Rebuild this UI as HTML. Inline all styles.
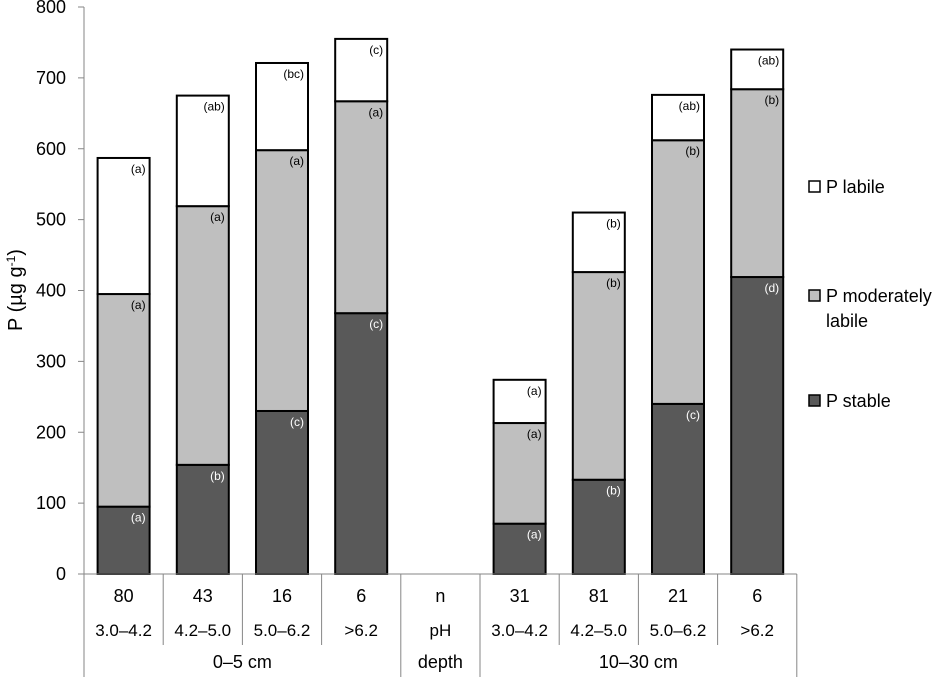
<!DOCTYPE html>
<html><head><meta charset="utf-8">
<style>
body{margin:0;background:#fff;}
svg text{font-family:"Liberation Sans","DejaVu Sans",sans-serif;}
</style></head>
<body>
<svg id="chart" width="941" height="677" viewBox="0 0 941 677" xmlns="http://www.w3.org/2000/svg"></svg>
<script>
const nValues=["80","43","16","6","n","31","81","21","6"];
const phLabels=["3.0–4.2","4.2–5.0","5.0–6.2",">6.2","pH","3.0–4.2","4.2–5.0","5.0–6.2",">6.2"];
const stableVals=[95,154,230,368,null,71,133,240,419];
const moderateVals=[300,365,368,299,null,142,293,372,265];
const labileVals=[192,156,123,88,null,61,84,64,56];
const stableLetters=["(a)","(b)","(c)","(c)","","(a)","(b)","(c)","(d)"];
const moderateLetters=["(a)","(a)","(a)","(a)","","(a)","(b)","(b)","(b)"];
const labileLetters=["(a)","(ab)","(bc)","(c)","","(a)","(b)","(ab)","(ab)"];
const yTicks=[0,100,200,300,400,500,600,700,800];

const svg=document.getElementById('chart');
const NS='http://www.w3.org/2000/svg';
const x0=84, slotW=79.2, y0=574, yTop=7, yMax=800, barW=52;
function yS(v){return y0-(v/yMax)*(y0-yTop);}
function xC(i){return x0+slotW*(i+0.5);}
function mk(tag,attrs,txt){const e=document.createElementNS(NS,tag);for(const k in attrs)e.setAttribute(k,attrs[k]);if(txt!==undefined)e.textContent=txt;svg.appendChild(e);return e;}

let ax=mk('line',{x1:x0,y1:yTop,x2:x0,y2:y0,stroke:'#868686','stroke-width':1});


yTicks.forEach(t=>{
  const l=mk('line',{x1:x0-6,y1:yS(t),x2:x0,y2:yS(t),stroke:'#868686'});
  
  
  const tx=mk('text',{x:x0-18,y:yS(t)+6,'text-anchor':'end','font-size':18,fill:'#000'},String(t));
  
  
});
const yl=mk('text',{transform:'translate(22,290) rotate(-90)','text-anchor':'middle','font-size':20,fill:'#000'});
yl.innerHTML='P (µg g<tspan dy="-7" font-size="12">-1</tspan><tspan dy="7">)</tspan>';



const cols=['#595959','#bfbfbf','#ffffff'];
const names=['stable','moderate','labile'];
for(let i=0;i<nValues.length;i++){
  if(stableVals[i]===null)continue;
  const segs=[stableVals[i],moderateVals[i],labileVals[i]];
  const lets=[stableLetters[i],moderateLetters[i],labileLetters[i]];
  let base=0;
  segs.forEach((v,k)=>{
    const top=base+v;
    const r=mk('rect',{x:xC(i)-barW/2,y:yS(top),width:barW,height:yS(base)-yS(top),fill:cols[k],stroke:'#000','stroke-width':2});
    
    
    const t=mk('text',{x:xC(i)+barW/2-4,y:yS(top)+15,'text-anchor':'end','font-size':12,fill:k===0?'#fff':'#000'},lets[k]);
    
    
    base=top;
  });
}

const xEnd=x0+slotW*9;
let hl=mk('line',{x1:x0,y1:y0,x2:xEnd,y2:y0,stroke:'#868686'});


for(let i=0;i<=9;i++){
  const xx=x0+slotW*i;
  const full=(i===0||i===4||i===5||i===9);
  const l=mk('line',{x1:xx,y1:y0,x2:xx,y2:full?677:645,stroke:'#868686'});
  
  
}
for(let i=0;i<9;i++){
  const a=mk('text',{x:xC(i),y:602,'text-anchor':'middle','font-size':18,fill:'#000'},nValues[i]);
  
  
  const b=mk('text',{x:xC(i),y:636,'text-anchor':'middle','font-size':17,fill:'#000'},phLabels[i]);
  
  
}
[["0–5 cm",(x0+x0+slotW*4)/2],["depth",xC(4)],["10–30 cm",(x0+slotW*5+xEnd)/2]].forEach(d=>{
  const t=mk('text',{x:d[1],y:668,'text-anchor':'middle','font-size':18,fill:'#000'},d[0]);
  
  
});

[[cols[2],187,['P labile']],[cols[1],296,['P moderately','labile']],[cols[0],401,['P stable']]].forEach(g=>{
  const r=mk('rect',{x:809,y:g[1]-6,width:11,height:11,fill:g[0],stroke:'#000','stroke-width':1.5});
  
  
  g[2].forEach((s,j)=>{
    const t=mk('text',{x:826,y:g[1]+6+j*25,'font-size':18,fill:'#000'},s);
    
    
  });
});
</script>
</body></html>
